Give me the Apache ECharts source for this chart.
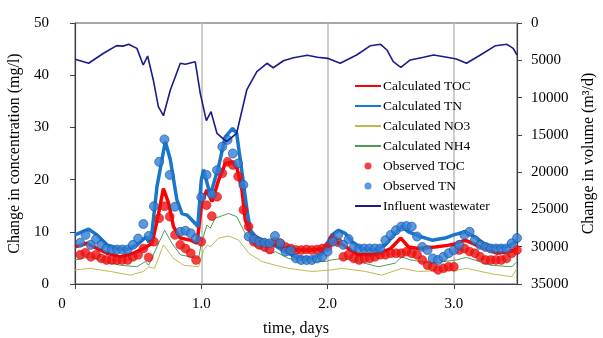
<!DOCTYPE html>
<html>
<head>
<meta charset="utf-8">
<script src="https://cdn.jsdelivr.net/npm/echarts@6/dist/echarts.min.js"></script>
<style>
  html, body { margin: 0; background: #fff; }
  #chart { width: 603px; height: 338px; }
</style>
</head>
<body>
<div id="chart"></div>
<script>
// time in days, concentration in mg/l, volume in m3/d
const calcTN = [
  [0, 9.4], [0.108, 10.5], [0.174, 9.4], [0.253, 7.5], [0.333, 6.8], [0.41, 6.6], [0.49, 7.5],
  [0.543, 8.6], [0.565, 9.0], [0.585, 8.0], [0.61, 10.0], [0.649, 18.6], [0.715, 27.3], [0.755, 23.8],
  [0.807, 16.1], [0.847, 13.5], [0.887, 13.2], [0.952, 11.6], [0.972, 11.0], [1.0, 19.9], [1.018, 21.9],
  [1.071, 17.0], [1.137, 22.5], [1.19, 28.2], [1.248, 29.8], [1.28, 28.9], [1.32, 21.8], [1.362, 14.2],
  [1.388, 10.3], [1.44, 8.8], [1.533, 8.1], [1.64, 6.5], [1.744, 5.2], [1.876, 4.9], [1.95, 5.6],
  [1.99, 7.5], [2.035, 9.4], [2.087, 10.3], [2.14, 9.7], [2.193, 8.1], [2.27, 6.8], [2.378, 6.5],
  [2.457, 7.5], [2.536, 9.7], [2.589, 11.0], [2.64, 10.0], [2.72, 9.2], [2.827, 8.4], [2.93, 8.8],
  [3.0, 9.4], [3.09, 10.0], [3.16, 9.1], [3.235, 7.8], [3.31, 7.1], [3.42, 7.1], [3.47, 7.8], [3.5, 8.4]
];
const calcTOC = [
  [0, 7.1], [0.095, 7.8], [0.174, 6.8], [0.253, 5.9], [0.359, 5.2], [0.464, 5.9], [0.543, 6.8],
  [0.61, 7.8], [0.662, 13.5], [0.70, 18.3], [0.741, 15.5], [0.78, 11.0], [0.834, 8.8], [0.913, 8.4],
  [0.966, 7.8], [1.005, 15.8], [1.045, 18.0], [1.085, 15.8], [1.137, 19.9], [1.19, 23.1], [1.243, 23.4],
  [1.283, 22.2], [1.322, 18.0], [1.348, 12.3], [1.388, 9.7], [1.48, 8.4], [1.61, 7.1], [1.744, 6.5],
  [1.876, 6.5], [1.98, 6.8], [2.06, 8.1], [2.12, 7.5], [2.24, 5.6], [2.38, 5.6], [2.50, 6.8], [2.58, 8.8],
  [2.64, 7.1], [2.72, 6.8], [2.85, 7.1], [2.95, 7.4], [3.0, 7.6], [3.09, 8.4], [3.21, 7.1], [3.34, 5.9],
  [3.45, 6.2], [3.5, 6.8]
];
const calcNO3 = [
  [0, 2.7], [0.12, 3.0], [0.28, 2.4], [0.438, 1.7], [0.543, 2.4], [0.583, 3.3], [0.63, 3.0], [0.70, 7.5],
  [0.78, 4.9], [0.86, 3.6], [0.979, 3.3], [1.0, 5.0], [1.018, 6.5], [1.05, 7.5], [1.07, 7.1], [1.137, 8.8],
  [1.216, 9.2], [1.296, 8.4], [1.375, 5.9], [1.48, 4.3], [1.587, 3.6], [1.69, 3.0], [1.876, 2.4],
  [2.03, 2.7], [2.113, 3.0], [2.30, 2.4], [2.43, 1.7], [2.589, 3.0], [2.72, 2.4], [3.037, 2.7],
  [3.10, 3.0], [3.31, 1.9], [3.46, 1.4], [3.5, 3.0]
];
const calcNH4 = [
  [0, 4.6], [0.12, 5.2], [0.227, 4.3], [0.359, 3.6], [0.49, 3.3], [0.557, 4.3], [0.583, 3.6], [0.649, 7.1],
  [0.71, 10.3], [0.768, 7.8], [0.834, 5.6], [0.913, 5.2], [0.979, 4.9], [1.0, 7.8], [1.045, 11.3],
  [1.071, 10.7], [1.11, 12.6], [1.216, 13.5], [1.28, 12.9], [1.348, 9.7], [1.428, 7.1], [1.56, 5.9],
  [1.587, 6.2], [1.69, 4.9], [1.876, 4.3], [1.98, 4.3], [2.03, 4.6], [2.113, 4.9], [2.24, 4.3],
  [2.404, 3.3], [2.536, 4.0], [2.589, 5.2], [2.66, 4.6], [2.827, 4.0], [3.02, 4.6], [3.10, 5.1],
  [3.29, 3.6], [3.46, 3.3], [3.5, 4.3]
];
// hourly samples, first one at hour 1
const obsStartHour = 1;
const obsTOC = [
  5.6, 6.0, 5.2, 5.6, 4.9, 4.6, 4.6, 4.6, 4.6, 4.6, 5.2, 5.6, 6.8, 5.1, 8.1, 12.6, 14.9, 12.9, 9.4, 7.5,
  6.8, 5.9, 4.6, 8.1, 15.1, 13.0, 16.7, 21.2, 23.4, 22.8, 20.6, 14.2, 11.0, 8.1, 7.5, 7.1, 6.6, 8.1, 7.8,
  7.1, 6.8, 6.5, 6.5, 6.6, 6.5, 6.6, 6.8, 7.1, 8.6, 8.0, 5.2, 5.6, 4.9, 4.6, 4.9, 4.9, 5.2, 5.6, 5.6,
  5.9, 5.9, 5.9, 6.2, 5.9, 5.6, 4.6, 3.6, 3.3, 2.7, 3.0, 3.3, 3.3, 6.5, 6.8, 6.2, 5.9, 5.2, 4.6, 4.6,
  4.6, 4.6, 4.9, 5.9, 6.5
];
const obsTN = [
  7.9, 9.4, 7.5, 8.6, 7.5, 6.8, 6.6, 6.6, 6.6, 6.6, 7.5, 8.7, 11.5, 9.2, 14.9, 23.4, 27.7, 20.9, 14.8, 10.0,
  10.2, 9.7, 8.7, 16.6, 20.9, 17.2, 21.8, 26.3, 27.6, 25.0, 23.1, 19.0, 9.1, 8.6, 8.1, 7.9, 7.8, 9.2, 7.8,
  6.2, 6.4, 4.9, 4.6, 4.6, 4.6, 4.9, 5.2, 6.2, 8.1, 9.4, 7.5, 8.6, 7.1, 6.8, 6.8, 6.8, 6.8, 6.8, 8.4,
  9.4, 10.3, 11.0, 11.1, 11.0, 9.1, 7.1, 6.5, 4.9, 4.6, 5.2, 5.9, 6.5, 7.5, 9.4, 10.0, 8.4, 7.5, 7.1, 6.8,
  6.8, 6.8, 6.8, 7.8, 8.8
];
const influent = [
  [0, 4870], [0.108, 5400], [0.226, 4060], [0.33, 3040], [0.38, 3100], [0.425, 2860], [0.49, 3400],
  [0.54, 5630], [0.575, 4430], [0.62, 7640], [0.66, 11220], [0.70, 12430], [0.755, 8980], [0.834, 5400],
  [0.873, 5540], [0.952, 5190], [0.992, 9430], [1.04, 13100], [1.077, 11890], [1.124, 14790], [1.2, 15900],
  [1.28, 14790], [1.36, 8980], [1.44, 6530], [1.52, 5400], [1.57, 6000], [1.65, 5060], [1.73, 4650],
  [1.84, 4330], [1.92, 4600], [2.0, 4740], [2.10, 5400], [2.23, 4290], [2.34, 3040], [2.42, 2860],
  [2.47, 3620], [2.52, 5190], [2.58, 5950], [2.655, 4960], [2.76, 4600], [2.84, 4290], [2.945, 4600],
  [3.02, 4830], [3.10, 5400], [3.21, 4290], [3.33, 3040], [3.42, 2860], [3.47, 3400], [3.5, 4290]
];

const FONT = '"Liberation Serif", "Times New Roman", serif';
const hourly = (vals) => vals.map((v, i) => [(i + obsStartHour) / 24, v]);
const lineItem = (name) => ({ name, itemStyle: { opacity: 0 } });
const dotItem = (name) => ({ name, icon: "circle", itemStyle: { borderWidth: 0 } });

const chart = echarts.init(document.getElementById("chart"), null, { renderer: "canvas" });

chart.setOption({
  animation: false,
  textStyle: { fontFamily: FONT, color: "#000" },
  grid: {
    left: 75, right: 86, top: 23, bottom: 54,
    outerBoundsMode: "none",
    show: true, borderColor: "#505050", borderWidth: 1
  },
  legend: {
    orient: "vertical",
    left: 349,
    top: 74,
    itemWidth: 26,
    itemHeight: 7,
    itemGap: 6,
    textStyle: { fontFamily: FONT, fontSize: 13.5, color: "#000", padding: [0, 0, 0, -3] },
    data: [
      lineItem("Calculated TOC"), lineItem("Calculated TN"), lineItem("Calculated NO3"),
      lineItem("Calculated NH4"), dotItem("Observed TOC"), dotItem("Observed TN"),
      lineItem("Influent wastewater")
    ]
  },
  xAxis: {
    type: "value",
    min: 0,
    max: 3.5,
    interval: 1,
    name: "time, days",
    nameLocation: "middle",
    nameGap: 37,
    nameTextStyle: { fontFamily: FONT, fontSize: 16, color: "#000" },
    axisLine: { lineStyle: { color: "#404040", width: 1.2 } },
    axisTick: { show: true, length: 5, lineStyle: { color: "#404040" } },
    axisLabel: {
      margin: 13,
      fontSize: 15,
      color: "#000",
      fontFamily: FONT,
      showMaxLabel: false,
      formatter: (v) => (v === 0 ? "{z|0}" : v.toFixed(1)),
      rich: { z: { fontSize: 15, fontFamily: FONT, color: "#000", padding: [0, 26, 0, 0] } }
    },
    splitLine: { show: true, lineStyle: { color: "#bdbdbd", width: 1.5 } }
  },
  yAxis: [
    {
      type: "value",
      min: 0,
      max: 50,
      interval: 10,
      name: "Change in concentration (mg/l)",
      nameLocation: "middle",
      nameRotate: 90,
      nameGap: 50,
      nameTextStyle: { fontFamily: FONT, fontSize: 16, color: "#000" },
      axisLine: { show: true, lineStyle: { color: "#404040", width: 1.2 } },
      axisTick: { show: true, length: 5, lineStyle: { color: "#404040" } },
      axisLabel: { margin: 26, fontSize: 15, color: "#000", fontFamily: FONT },
      splitLine: { show: false }
    },
    {
      type: "value",
      min: 0,
      max: 35000,
      interval: 5000,
      inverse: true,
      position: "right",
      name: "Change in volume (m³/d)",
      nameLocation: "middle",
      nameRotate: 90,
      nameGap: 64,
      nameTextStyle: { fontFamily: FONT, fontSize: 16, color: "#000" },
      axisLine: { show: true, lineStyle: { color: "#404040", width: 1.2 } },
      axisTick: { show: true, length: 5, lineStyle: { color: "#404040" } },
      axisLabel: { margin: 14, fontSize: 15, color: "#000", fontFamily: FONT, formatter: (v) => String(v) },
      splitLine: { show: false }
    }
  ],
  series: [
    {
      name: "Calculated TOC", type: "line", data: calcTOC, showSymbol: false, symbol: "none",
      lineStyle: { color: "#ff0000", width: 3.5 }, itemStyle: { color: "#ff0000" }, z: 3
    },
    {
      name: "Calculated TN", type: "line", data: calcTN, showSymbol: false, symbol: "none",
      lineStyle: { color: "#1877cc", width: 3.5 }, itemStyle: { color: "#1877cc" }, z: 3
    },
    {
      name: "Calculated NO3", type: "line", data: calcNO3, showSymbol: false, symbol: "none",
      lineStyle: { color: "#c2b84e", width: 1 }, itemStyle: { color: "#c2b84e" }, z: 2
    },
    {
      name: "Calculated NH4", type: "line", data: calcNH4, showSymbol: false, symbol: "none",
      lineStyle: { color: "#4f9a55", width: 1 }, itemStyle: { color: "#4f9a55" }, z: 2
    },
    {
      name: "Observed TOC", type: "scatter", data: hourly(obsTOC), symbol: "circle", symbolSize: 9,
      itemStyle: { color: "#f01010", borderColor: "#d00000", borderWidth: 0.5 }, z: 4
    },
    {
      name: "Observed TN", type: "scatter", data: hourly(obsTN), symbol: "circle", symbolSize: 9,
      itemStyle: { color: "#2f80d8", borderColor: "#1c4f96", borderWidth: 0.8 }, z: 4
    },
    {
      name: "Influent wastewater", type: "line", yAxisIndex: 1, data: influent, showSymbol: false,
      symbol: "none", lineStyle: { color: "#1b1b8a", width: 1.6 }, itemStyle: { color: "#1b1b8a" }, z: 5
    }
  ]
});
</script>
</body>
</html>
